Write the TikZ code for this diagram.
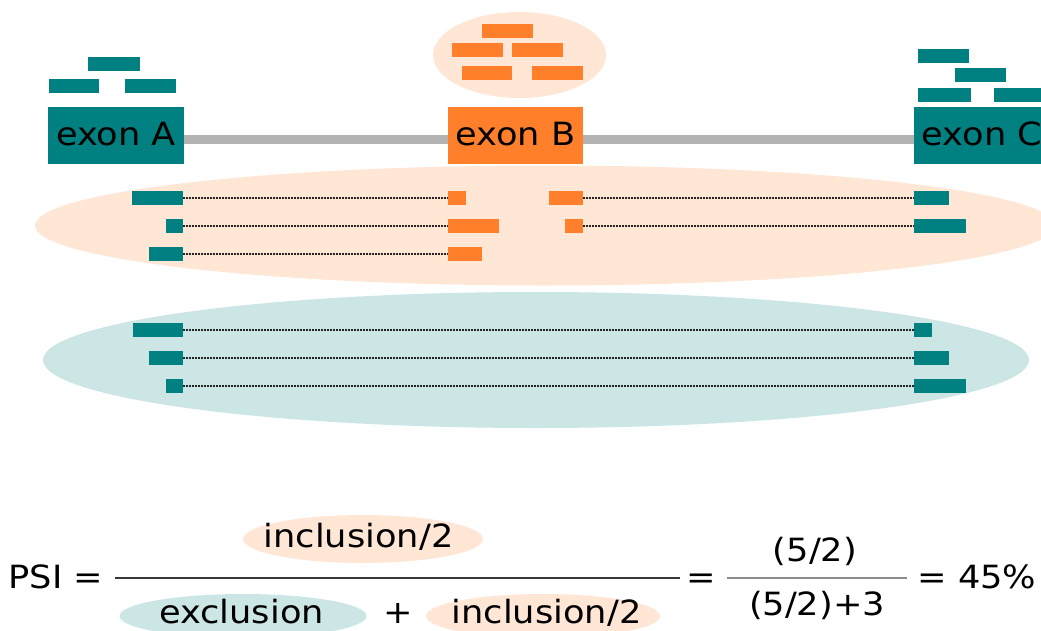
\documentclass[tikz,border=0pt]{standalone}
\usepackage{fontspec}
\setmainfont{DejaVu Sans}
\newfontfamily\formfont{DejaVu Sans}[FakeStretch=1.1]
\usetikzlibrary{shapes.geometric}
\definecolor{exteal}{HTML}{008080}
\definecolor{exorange}{HTML}{FF7F2A}
\definecolor{pinkbg}{HTML}{FFE6D5}
\definecolor{bluebg}{HTML}{CCE6E6}
\definecolor{introngray}{HTML}{B3B3B3}
\definecolor{dotgray}{HTML}{222222}
\tikzset{
  exonbox/.style={inner sep=0, minimum width=136, minimum height=57, text=black,
    font=\formfont\fontsize{32}{38}\selectfont, text depth=3pt},
  tread/.style={fill=exteal, inner sep=0, minimum height=14, anchor=west},
  oread/.style={fill=exorange, inner sep=0, minimum height=14, anchor=west},
  junction/.style={draw=dotgray, line width=2pt, dash pattern=on 1.6pt off 1.4pt},
  intron/.style={draw=introngray, line width=9pt},
  cloud/.style={ellipse, inner sep=0},
  txt/.style={inner sep=0, anchor=base, font=\formfont\fontsize{32}{38}\selectfont},
}
\begin{document}
\begin{tikzpicture}[x=1pt,y=-1pt]
\useasboundingbox (0,0) rectangle (1041,630);
\clip (0,0) rectangle (1041,630);

% background clouds
\node[cloud, fill=pinkbg, minimum width=173, minimum height=86] (bcloud) at (519.5,55) {};
\node[cloud, fill=pinkbg, minimum width=1020, minimum height=120] (incl) at (545,225.5) {};
\node[cloud, fill=bluebg, minimum width=986, minimum height=136] (excl) at (536,360) {};

% exons
\node[exonbox, fill=exteal] (A) at (116,135.5) {exon A};
\node[exonbox, fill=exorange, minimum width=135] (B) at (515.5,135.5) {exon B};
\node[exonbox, fill=exteal] (C) at (982,135.5) {exon C};
\draw[intron] ([yshift=-3.5pt]A.east) -- ([yshift=-3.5pt]B.west);
\draw[intron] ([yshift=-3.5pt]B.east) -- ([yshift=-3.5pt]C.west);

% reads over exon A
\node[tread, minimum width=52] (a1) at (88,64) {};
\node[tread, minimum width=50] (a2) at (49,86) {};
\node[tread, minimum width=51] (a3) at (125,86) {};
% reads over exon B
\node[oread, minimum width=51] (b1) at (482,30.5) {};
\node[oread, minimum width=51] (b2) at (452,50) {};
\node[oread, minimum width=51] (b3) at (512,50) {};
\node[oread, minimum width=50] (b4) at (462,72.5) {};
\node[oread, minimum width=51] (b5) at (532,72.5) {};
% reads over exon C
\node[tread, minimum width=51] (c1) at (918,55.5) {};
\node[tread, minimum width=51] (c2) at (955,75) {};
\node[tread, minimum width=53] (c3) at (918,95) {};
\node[tread, minimum width=60] (c4) at (994,95) {};

% inclusion junction reads
\node[tread, minimum width=51] (p1a) at (132,198) {};
\node[oread, minimum width=18] (p1b) at (448,198) {};
\node[oread, minimum width=34] (p1c) at (549,198) {};
\node[tread, minimum width=35] (p1d) at (914,198) {};
\node[tread, minimum width=17] (p2a) at (166,225.5) {};
\node[oread, minimum width=51] (p2b) at (448,225.5) {};
\node[oread, minimum width=18] (p2c) at (565,225.5) {};
\node[tread, minimum width=52] (p2d) at (914,225.5) {};
\node[tread, minimum width=34] (p3a) at (149,254) {};
\node[oread, minimum width=34] (p3b) at (448,254) {};
\draw[junction] (p1a.east) -- (p1b.west);
\draw[junction] (p1c.east) -- (p1d.west);
\draw[junction] (p2a.east) -- (p2b.west);
\draw[junction] (p2c.east) -- (p2d.west);
\draw[junction] (p3a.east) -- (p3b.west);

% exclusion junction reads
\node[tread, minimum width=50] (q1a) at (133,330) {};
\node[tread, minimum width=18] (q1b) at (914,330) {};
\node[tread, minimum width=34] (q2a) at (149,358) {};
\node[tread, minimum width=35] (q2b) at (914,358) {};
\node[tread, minimum width=17] (q3a) at (166,386) {};
\node[tread, minimum width=52] (q3b) at (914,386) {};
\draw[junction] (q1a.east) -- (q1b.west);
\draw[junction] (q2a.east) -- (q2b.west);
\draw[junction] (q3a.east) -- (q3b.west);

% formula
\node[cloud, fill=pinkbg, minimum width=240, minimum height=48] (itop) at (363,539) {};
\node[cloud, fill=bluebg, minimum width=247, minimum height=44] (ebot) at (243,616) {};
\node[cloud, fill=pinkbg, minimum width=234, minimum height=44] (ibot) at (543,616) {};
\node[txt] (psi) at (56,588) {PSI =};
\node[txt] (itoptxt) at (358.5,547.5) {inclusion/2};
\node[txt] (ebottxt) at (241.5,623.5) {exclusion};
\node[txt] (plus) at (398,623.5) {+};
\node[txt] (ibottxt) at (546.5,623.5) {inclusion/2};
\coordinate (f1l) at (115,578);
\coordinate (f1r) at (680,578);
\draw[draw=black!78, line width=2.8pt] (f1l) -- (f1r);
\node[txt] (eq2) at (701,588) {=};
\node[txt] (num) at (815,561) {(5/2)};
\node[txt] (den) at (817,615) {(5/2)+3};
\coordinate (f2l) at (727,578);
\coordinate (f2r) at (907,578);
\draw[draw=black!45, line width=2.2pt] (f2l) -- (f2r);
\node[txt] (res) at (977,588) {= 45\%};
\end{tikzpicture}
\end{document}
